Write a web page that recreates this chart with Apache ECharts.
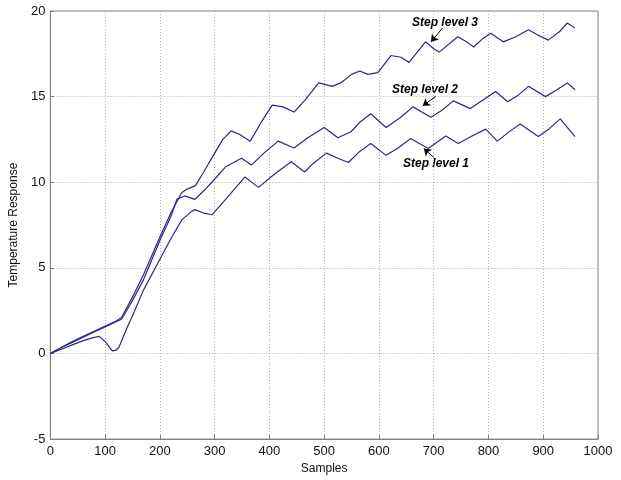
<!DOCTYPE html>
<html>
<head>
<meta charset="utf-8">
<script src="https://cdn.jsdelivr.net/npm/echarts@6/dist/echarts.min.js"></script>
<style>
html,body{margin:0;padding:0;background:#fff;}
#chart{width:621px;height:480px;}
</style>
</head>
<body>
<div id="chart"></div>
<script>
// Samples (x) and temperature response (y)
var level3 = [[0,0],[20,0.35],[40,0.7],[60,1.0],[80,1.3],[100,1.6],[120,1.9],[130,2.1],[150,3.3],[170,4.6],[200,6.8],[220,8.2],[240,9.4],[250,9.6],[265,9.8],[280,10.6],[300,11.7],[315,12.5],[330,13.0],[345,12.8],[365,12.4],[385,13.5],[405,14.5],[425,14.4],[445,14.1],[465,14.8],[490,15.8],[515,15.6],[530,15.8],[550,16.3],[565,16.5],[580,16.3],[598,16.4],[622,17.4],[640,17.3],[655,17.0],[670,17.6],[685,18.2],[700,17.8],[710,17.6],[744,18.5],[760,18.2],[773,17.9],[790,18.4],[804,18.7],[827,18.2],[850,18.5],[873,18.9],[890,18.6],[909,18.3],[930,18.8],[944,19.3],[958,19.0]];
var level2 = [[0,0],[20,0.35],[40,0.65],[60,0.95],[80,1.25],[100,1.55],[120,1.85],[130,2.0],[150,3.1],[170,4.3],[200,6.6],[220,8.0],[231,9.0],[245,9.2],[264,9.0],[280,9.5],[295,10.0],[320,10.9],[349,11.4],[367,11.0],[390,11.7],[416,12.4],[445,12.0],[470,12.6],[500,13.2],[525,12.6],[549,12.95],[565,13.5],[585,14.0],[613,13.2],[640,13.8],[662,14.4],[695,13.8],[715,14.2],[736,14.75],[767,14.3],[790,14.8],[813,15.3],[835,14.7],[855,15.1],[873,15.6],[904,15.0],[925,15.4],[944,15.8],[958,15.4]];
var level1 = [[0,0],[20,0.25],[40,0.5],[60,0.75],[75,0.9],[89,1.0],[100,0.7],[107,0.4],[113,0.15],[120,0.2],[125,0.35],[140,1.5],[150,2.2],[170,3.7],[200,5.5],[220,6.7],[240,7.8],[258,8.3],[264,8.4],[280,8.2],[295,8.1],[320,9.0],[355,10.3],[380,9.7],[410,10.5],[440,11.2],[464,10.6],[480,11.1],[504,11.7],[525,11.4],[544,11.15],[565,11.8],[585,12.26],[613,11.57],[635,12.0],[658,12.55],[690,11.97],[722,12.7],[745,12.26],[770,12.7],[795,13.1],[816,12.4],[840,13.0],[858,13.4],[891,12.67],[910,13.1],[931,13.7],[958,12.67]];
// Annotation labels and arrow (from, to) in data coordinates
var annotationLabels = ['Step level 3','Step level 2','Step level 1'];
var arrows = [[[716,19.0],[695,18.2]],[[704,15.03],[680,14.46]],[[700,11.45],[682,11.97]]];

var lineColor = '#2a2a86';
var chart = echarts.init(document.getElementById('chart'), null, {renderer:'canvas'});

function mk(name, data, arrow){
  return {
    name: name, type:'line', data:data, showSymbol:false, symbol:'none',
    lineStyle:{color:lineColor, width:1.2}, animation:false,
    markLine:{
      silent:true, symbol:['none','arrow'], symbolSize:7,
      label:{show:false},
      lineStyle:{color:'#000', width:1, type:'solid'},
      itemStyle:{color:'#000'},
      data:[[{coord:arrow[0]},{coord:arrow[1]}]]
    }
  };
}

var txtStyle = {fill:'#000', font:'italic bold 12px "Liberation Sans", Arial, sans-serif', textAlign:'left', textVerticalAlign:'top'};
var fontFam = '"Liberation Sans", Arial, sans-serif';

chart.setOption({
  backgroundColor:'#fff',
  animation:false,
  grid:{left:48, right:23, top:11, bottom:36, show:true, borderColor:'#808080', borderWidth:1, backgroundColor:'transparent'},
  xAxis:{
    type:'value', min:0, max:1000, interval:100,
    name:'Samples', nameLocation:'middle', nameGap:22,
    nameTextStyle:{color:'#111', fontSize:12, fontFamily:fontFam},
    axisLine:{show:true, onZero:false, lineStyle:{color:'#808080'}},
    axisTick:{show:true, inside:true, length:4, lineStyle:{color:'#808080'}},
    axisLabel:{color:'#111', fontSize:13, margin:6, fontFamily:fontFam, formatter:function(v){return String(v);}},
    splitLine:{show:true, lineStyle:{color:'#b0b0b0', type:[1,2], width:1}}
  },
  yAxis:{
    type:'value', min:-5, max:20, interval:5,
    name:'Temperature Response', nameLocation:'middle', nameGap:24,
    nameTextStyle:{color:'#111', fontSize:12, fontFamily:fontFam},
    axisLine:{show:true, onZero:false, lineStyle:{color:'#808080'}},
    axisTick:{show:true, inside:true, length:4, lineStyle:{color:'#808080'}},
    axisLabel:{color:'#111', fontSize:13, margin:5, fontFamily:fontFam, formatter:function(v){return String(v);}},
    splitLine:{show:true, lineStyle:{color:'#b0b0b0', type:[1,2], width:1}}
  },
  series:[
    mk('Step level 3', level3, arrows[0]),
    mk('Step level 2', level2, arrows[1]),
    mk('Step level 1', level1, arrows[2])
  ],
  graphic:[
    {type:'text', left:412, top:17, style:Object.assign({text:annotationLabels[0]}, txtStyle)},
    {type:'text', left:392, top:84, style:Object.assign({text:annotationLabels[1]}, txtStyle)},
    {type:'text', left:403, top:158, style:Object.assign({text:annotationLabels[2]}, txtStyle)}
  ]
});
</script>
</body>
</html>
